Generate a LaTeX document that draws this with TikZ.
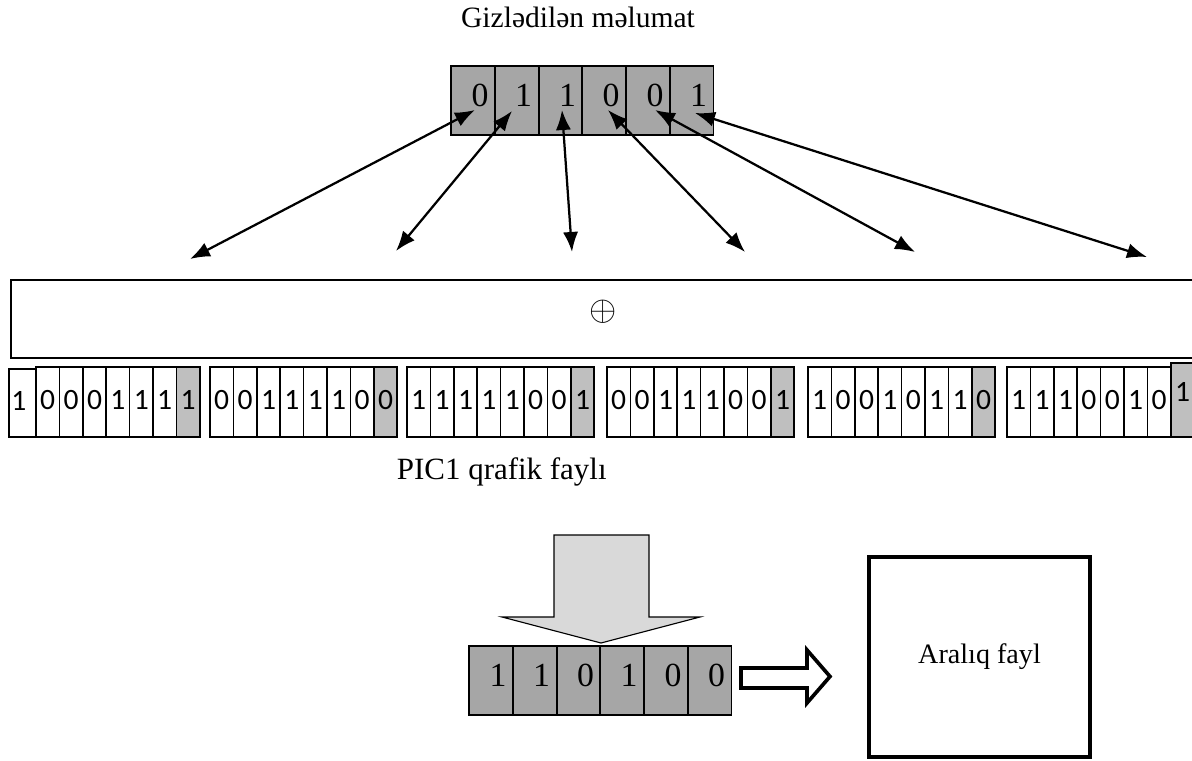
\documentclass[tikz,border=0pt]{standalone}
\usepackage{fontspec}
\setmainfont{Liberation Serif}
\newfontfamily\bitfont{Carlito}
\usetikzlibrary{arrows.meta,positioning}

\tikzset{
  graycell/.style={draw=black,line width=1.4pt,fill=black!35,minimum width=1.094cm,minimum height=1.725cm,inner sep=0pt,text width=0.775cm,align=right,text height=0.65cm,text depth=0.35cm,font=\fontsize{24}{24}\selectfont},
  bitcell/.style={draw=black,line width=1.2pt,fill=white,minimum width=0.585cm,minimum height=1.75cm,inner sep=0pt,text height=0.5cm,text depth=0.13cm,font=\bitfont\fontsize{21}{21}\selectfont},
  bitlast/.style={bitcell,fill=black!25},
  bigtext/.style={font=\fontsize{20}{24}\selectfont},
  bitarrow/.style={{Latex[length=0.5cm,width=0.38cm]}-{Latex[length=0.5cm,width=0.38cm]},line width=1.6pt}
}

\begin{document}
\begin{tikzpicture}[x=0.025cm,y=-0.025cm]
\useasboundingbox (0,0) rectangle (1192,761);
\node[font=\fontsize{21}{25}\selectfont,anchor=base] (hidden) at (578,28) {Gizlədilən məlumat};
% secret bits
\node[graycell] (s1) at (472.9,100.5) {0};
\node[graycell] (s2) at (516.6,100.5) {1};
\node[graycell] (s3) at (560.4,100.5) {1};
\node[graycell] (s4) at (604.1,100.5) {0};
\node[graycell] (s5) at (647.9,100.5) {0};
\node[graycell] (s6) at (691.6,100.5) {1};
% arrow ends
\coordinate (t1) at (475,110);
\coordinate (t2) at (512,111);
\coordinate (t3) at (562,110);
\coordinate (t4) at (608,110);
\coordinate (t5) at (655,110);
\coordinate (t6) at (695,113);
\coordinate (b1) at (190,259);
\coordinate (b2) at (396,251);
\coordinate (b3) at (572,252);
\coordinate (b4) at (745,252);
\coordinate (b5) at (915,252);
\coordinate (b6) at (1147,257);
\draw[bitarrow] (t1)--(b1);
\draw[bitarrow] (t2)--(b2);
\draw[bitarrow] (t3)--(b3);
\draw[bitarrow] (t4)--(b4);
\draw[bitarrow] (t5)--(b5);
\draw[bitarrow] (t6)--(b6);
% xor box
\node[draw=black,line width=1.8pt,minimum width=29.6cm,minimum height=1.95cm,inner sep=0pt,text height=0.55cm,text depth=0.45cm,font=\fontsize{26}{30}\selectfont] (xorbox) at (603,319) {$\oplus$};
% PIC1 bytes
\node[bitcell,minimum width=0.675cm,minimum height=1.7cm,text width=0.55cm,align=left] (g1-1) at (22.5,403) {1};
\foreach \b [count=\k from 2] in {0,0,0,1,1,1}
  \node[bitcell] (g1-\k) at (12.6+23.4*\k-11.7,402) {\b};
\foreach \g/\x/\bits in {2/210/{0,0,1,1,1,1,0},3/407/{1,1,1,1,1,0,0},4/607/{0,0,1,1,1,0,0},5/808/{1,0,0,1,0,1,1},6/1007/{1,1,1,0,0,1,0}}
  \foreach \b [count=\k] in \bits
    \node[bitcell] (g\g-\k) at (\x+23.4*\k-11.7,402) {\b};
\foreach \g/\x/\b in {1/12.6/1,2/210/0,3/407/1,4/607/1,5/808/0}
  \node[bitlast] (g\g-8) at (\x+175.5,402) {\b};
\node[bitlast,minimum height=1.85cm,text depth=0.43cm] (g6-8) at (1182.5,400) {1};
\node[font=\fontsize{22}{26}\selectfont,anchor=base west] (picfile) at (392,480) {PIC1 qrafik faylı};
% extraction
\draw[line width=0.8pt,fill=black!15] (554,535) -- (649,535) -- (649,617) -- (700,617) -- (601,643) -- (502,617) -- (554,617) -- cycle;
\node[graycell] (r1) at (490.9,680.5) {1};
\node[graycell] (r2) at (534.6,680.5) {1};
\node[graycell] (r3) at (578.4,680.5) {0};
\node[graycell] (r4) at (622.1,680.5) {1};
\node[graycell] (r5) at (665.9,680.5) {0};
\node[graycell] (r6) at (709.6,680.5) {0};
\draw[line width=2.6pt,fill=white] (741,668) -- (807,668) -- (807,650) -- (830,676.5) -- (807,703) -- (807,688) -- (741,688) -- cycle;
\node[draw=black,line width=3.2pt,minimum width=5.525cm,minimum height=5cm,bigtext] (interfile) at (979.5,657) {Aralıq fayl};
\end{tikzpicture}
\end{document}
